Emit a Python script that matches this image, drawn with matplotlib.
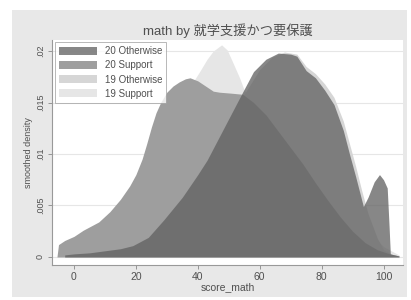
import matplotlib
matplotlib.use('Agg')
import matplotlib.pyplot as plt
from matplotlib.patches import Rectangle

plt.rcParams['font.family'] = ['Liberation Sans', 'Noto Sans CJK JP', 'DejaVu Sans']

# series (score, smoothed density)
x_20o = [-3, 0, 5, 10, 15, 19, 24, 29, 35, 40, 43, 47, 51, 55, 58, 62, 66, 70, 72, 75,
         78, 81, 84, 87, 89, 91, 93.5, 95, 97, 98.7, 100, 101.2, 101.8, 102.2, 105]
y_20o = [.0002, .0003, .0004, .0006, .0008, .0011, .0019, .0036, .0058, .0080, .0094, .0117,
         .0140, .0163, .0180, .0192, .0198, .0197, .0195, .0181, .0174, .0162, .0148, .0123,
         .0100, .0078, .0049, .0058, .0073, .0080, .0075, .0067, .0030, .0003, .0001]

x_20s = [-5.5, -5, -3, 0, 3, 8, 11.6, 15, 18, 20, 22, 23.5, 25, 26.5, 28, 30, 32, 34, 36,
         37.5, 40, 43, 45, 47, 51, 54.5, 58, 62, 66, 70, 74, 78, 82, 86, 90, 94, 98, 102, 105]
y_20s = [0, .0012, .0016, .0020, .0026, .0034, .0044, .0056, .0069, .0080, .0095, .0110,
         .0126, .0140, .0150, .0160, .0166, .0170, .0173, .0174, .0171, .0165, .0161, .0160,
         .0159, .0158, .0150, .0138, .0122, .0106, .0090, .0072, .0055, .0039, .0025, .0014,
         .0007, .0003, .0001]

x_19o = [-3, 0, 10, 20, 29, 35, 40, 45, 50, 55, 60, 64, 68, 72, 75, 78, 81, 84, 87, 89,
         91, 93, 95, 98, 100, 103]
y_19o = [.0002, .0003, .0006, .0012, .0032, .0052, .0074, .0100, .0130, .0158, .0182, .0194,
         .0199, .0197, .0185, .0178, .0168, .0155, .0132, .0110, .0088, .0064, .0042, .0018,
         .0007, .0002]

x_19s = [-5, 0, 5, 15, 25, 32, 37, 40.6, 43, 45, 47.7, 49.5, 51, 53.5, 55, 58, 62, 66,
         70, 75, 80, 85, 90, 95, 100, 105]
y_19s = [.0002, .0005, .0009, .0028, .0075, .0128, .0163, .0180, .0192, .0200, .0206, .0201,
         .0191, .0174, .0162, .0152, .0145, .0138, .0125, .0105, .0085, .0065, .0045, .0025,
         .0010, .0002]

y_ticks = [0, .005, .01, .015, .02]
y_ticklabels = ['0', '.005', '.01', '.015', '.02']
x_ticks = [0, 20, 40, 60, 80, 100]

txt = '#505050'

fig = plt.figure(figsize=(4.11, 3.0), dpi=100)
fig.patch.set_facecolor('white')
# gray graph region
fig.patches.append(Rectangle((12 / 411, 3 / 300), 395 / 411, 287 / 300,
                             transform=fig.transFigure, facecolor='#e8e8e8',
                             edgecolor='none', zorder=-10))

ax = fig.add_axes([52 / 411, 35 / 300, 351 / 411, 225 / 300])
ax.set_facecolor('white')

ax.fill_between(x_19s, y_19s, color='#e6e6e6', lw=0, label='19 Support', zorder=2)
ax.fill_between(x_19o, y_19o, color='#d6d6d6', lw=0, label='19 Otherwise', zorder=3)
ax.fill_between(x_20s, y_20s, color='#9e9e9e', lw=0, label='20 Support', zorder=4)
ax.fill_between(x_20o, y_20o, color='#616161', alpha=0.76, lw=0, label='20 Otherwise', zorder=5)

ax.set_xlim(-7.1, 106.3)
ax.set_ylim(-0.00078, 0.02107)
ax.set_yticks(y_ticks)
ax.set_yticklabels(y_ticklabels, rotation=90, va='center', fontsize=6.5, color=txt)
ax.set_xticks(x_ticks)
ax.set_xticklabels([str(t) for t in x_ticks], fontsize=7.5, color=txt)
ax.tick_params(length=3, width=0.6, color='#888888', pad=2)
ax.grid(axis='y', color='#e6e6e6', lw=0.8, zorder=1)
ax.set_axisbelow(True)
for s in ['top', 'right']:
    ax.spines[s].set_visible(False)
for s in ['left', 'bottom']:
    ax.spines[s].set_color('#999999')
    ax.spines[s].set_linewidth(0.8)

ax.set_xlabel('score_math', fontsize=7.5, color=txt, labelpad=0)
ax.set_ylabel('smoothed density', fontsize=6.5, color=txt, labelpad=2)
fig.text(0.555, 0.897, 'math by 就学支援かつ要保護', ha='center', va='center',
         fontsize=9.5, color=txt)

handles, labels = ax.get_legend_handles_labels()
order = [3, 2, 1, 0]
leg = ax.legend([handles[i] for i in order], [labels[i] for i in order],
                loc='upper left', bbox_to_anchor=(3 / 351, 1 - 2 / 225), borderaxespad=0,
                fontsize=7, frameon=True, fancybox=False, edgecolor='#999999',
                handlelength=3.9, handleheight=0.9, borderpad=0.45,
                labelspacing=0.42, handletextpad=0.75)
leg.get_frame().set_linewidth(0.6)
for t in leg.get_texts():
    t.set_color(txt)

plt.savefig('out.png', dpi=100)
